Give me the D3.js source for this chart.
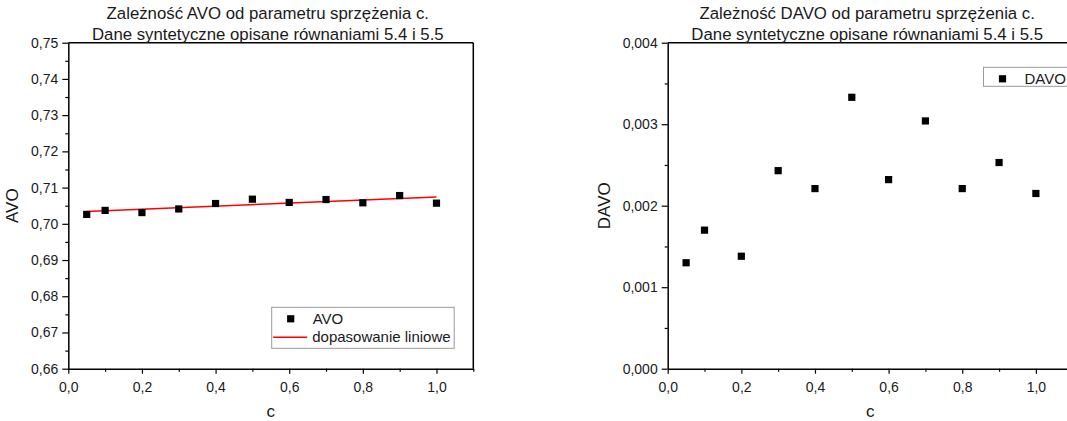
<!DOCTYPE html>
<html>
<head>
<meta charset="utf-8">
<script src="https://cdn.jsdelivr.net/npm/d3@7"></script>
<style>
  body { margin: 0; background: #fff; }
  svg { display: block; font-family: "Liberation Sans", Arial, sans-serif; }
</style>
</head>
<body>
<svg id="chart"></svg>
<script>
// Dane
var cValues = [0.05, 0.1, 0.2, 0.3, 0.4, 0.5, 0.6, 0.7, 0.8, 0.9, 1.0];
var avoValues = [0.7026, 0.7037, 0.7031, 0.7041, 0.7056, 0.7068, 0.7059, 0.7067, 0.7058, 0.7078, 0.7057];
var davoValues = [0.00130, 0.00170, 0.00138, 0.00243, 0.00221, 0.00333, 0.00232, 0.00304, 0.00221, 0.00253, 0.00215];
// dopasowanie liniowe (końce prostej)
var fitX = [0.05, 1.0];
var fitY = [0.7034, 0.7074];

var xTicks = [0, 0.2, 0.4, 0.6, 0.8, 1.0];
var xMinor = [0.1, 0.3, 0.5, 0.7, 0.9, 1.1];
var avoTicks = [0.66, 0.67, 0.68, 0.69, 0.70, 0.71, 0.72, 0.73, 0.74, 0.75];
var davoTicks = [0, 0.001, 0.002, 0.003, 0.004];

var width = 1067, height = 421;
var svg = d3.select("#chart").attr("width", width).attr("height", height);

var comma = function(digits) {
  return function(d) { return d3.format("." + digits + "f")(d).replace(".", ","); };
};

function drawPanel(o) {
  var x = d3.scaleLinear().domain([0, 1.1]).range([o.left, o.left + 405]);
  var y = d3.scaleLinear().domain(o.yDomain).range([368.7, 42.7]);
  var g = svg.append("g");

  // ramka góra / prawo
  g.append("line").attr("x1", x(0)).attr("x2", x(1.1)).attr("y1", y.range()[1]).attr("y2", y.range()[1])
    .attr("stroke", "#000").attr("stroke-width", 1.5);
  g.append("line").attr("x1", x(1.1)).attr("x2", x(1.1)).attr("y1", y.range()[0]).attr("y2", y.range()[1])
    .attr("stroke", "#000").attr("stroke-width", 1.5);

  // oś X
  var xAxis = g.append("g").attr("transform", "translate(0," + y.range()[0] + ")")
    .call(d3.axisBottom(x).tickValues(xTicks).tickFormat(comma(1)).tickSize(5).tickSizeOuter(0));
  g.append("g").attr("transform", "translate(0," + y.range()[0] + ")")
    .call(d3.axisBottom(x).tickValues(xMinor).tickFormat("").tickSize(3).tickSizeOuter(0))
    .select(".domain").remove();

  // oś Y
  var yAxis = g.append("g").attr("transform", "translate(" + x(0) + ",0)")
    .call(d3.axisLeft(y).tickValues(o.yTicks).tickFormat(comma(o.digits)).tickSize(6).tickSizeOuter(0));
  g.append("g").attr("transform", "translate(" + x(0) + ",0)")
    .call(d3.axisLeft(y).tickValues(o.yMinor).tickFormat("").tickSize(3).tickSizeOuter(0))
    .select(".domain").remove();

  g.selectAll(".domain").attr("stroke-width", 1.5);
  g.selectAll(".tick line").attr("stroke-width", 1.2);
  xAxis.selectAll(".tick text").attr("font-size", 14).attr("fill", "#1a1a1a").attr("dy", "1.1em");
  yAxis.selectAll(".tick text").attr("font-size", 14).attr("fill", "#1a1a1a").attr("x", -10);

  // tytuł
  var cx = (x(0) + x(1.1)) / 2;
  g.append("text").attr("x", cx - 3).attr("y", 19).attr("text-anchor", "middle")
    .attr("font-size", 16.8).attr("fill", "#1a1a1a").text(o.title);
  g.append("text").attr("x", cx - 3).attr("y", 40).attr("text-anchor", "middle")
    .attr("font-size", 16.8).attr("fill", "#1a1a1a").text("Dane syntetyczne opisane równaniami 5.4 i 5.5");

  // podpisy osi
  g.append("text").attr("x", cx).attr("y", 417).attr("text-anchor", "middle")
    .attr("font-size", 17).attr("fill", "#1a1a1a").text("c");
  g.append("text").attr("transform", "translate(" + (x(0) - o.labelOff) + ",205.7) rotate(-90)")
    .attr("text-anchor", "middle").attr("font-size", 17).attr("fill", "#1a1a1a").text(o.yLabel);

  // linia dopasowania
  if (o.fit) {
    g.append("path")
      .datum(d3.zip(fitX, fitY))
      .attr("d", d3.line().x(d => x(d[0])).y(d => y(d[1])))
      .attr("fill", "none").attr("stroke", "#ff0000").attr("stroke-width", 1.6);
  }

  // punkty
  g.selectAll("rect.pt")
    .data(d3.zip(cValues, o.values))
    .enter().append("rect")
    .attr("class", "pt")
    .attr("x", d => x(d[0]) - 3.6)
    .attr("y", d => y(d[1]) - 3.6)
    .attr("width", 7.2).attr("height", 7.2)
    .attr("fill", "#000");

  // legenda
  var lg = g.append("g").attr("transform", "translate(" + o.legend[0] + "," + o.legend[1] + ")");
  lg.append("rect").attr("width", o.legendW).attr("height", o.fit ? 41 : 19)
    .attr("fill", "#fff").attr("stroke", "#9a9a9a").attr("stroke-width", 1);
  lg.append("rect").attr("x", 19 - 3.6).attr("y", 11.5 - 3.6).attr("width", 7.2).attr("height", 7.2).attr("fill", "#000");
  lg.append("text").attr("x", 41).attr("y", 16.5).attr("font-size", 15).attr("fill", "#1a1a1a").text(o.yLabel);
  if (o.fit) {
    lg.append("line").attr("x1", 1.5).attr("x2", 35.5).attr("y1", 30).attr("y2", 30)
      .attr("stroke", "#ff0000").attr("stroke-width", 1.6);
    lg.append("text").attr("x", 40.5).attr("y", 35).attr("font-size", 15).attr("fill", "#1a1a1a").text("dopasowanie liniowe");
  }
}

drawPanel({
  left: 68.3, yDomain: [0.66, 0.75], yTicks: avoTicks,
  yMinor: d3.range(0.665, 0.75, 0.01), digits: 2, labelOff: 50,
  values: avoValues, fit: true, yLabel: "AVO",
  title: "Zależność AVO od parametru sprzężenia c.",
  legend: [271.7, 307.3], legendW: 182.5
});

drawPanel({
  left: 667.7, yDomain: [0, 0.004], yTicks: davoTicks,
  yMinor: [0.0005, 0.0015, 0.0025, 0.0035], digits: 3, labelOff: 57.7,
  values: davoValues, fit: false, yLabel: "DAVO",
  title: "Zależność DAVO od parametru sprzężenia c.",
  legend: [983.5, 67.3], legendW: 90
});
</script>
</body>
</html>
